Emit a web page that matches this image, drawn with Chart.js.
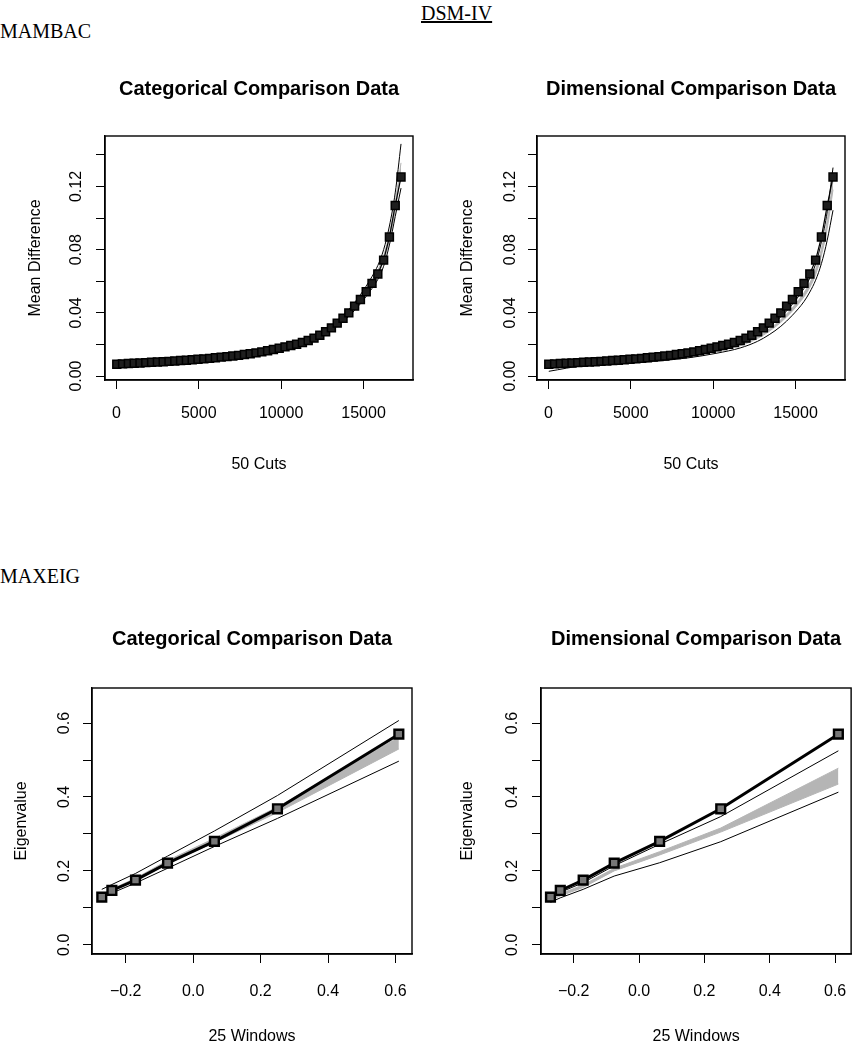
<!DOCTYPE html>
<html>
<head>
<meta charset="utf-8">
<script src="https://cdn.jsdelivr.net/npm/chart.js@4.4.1/dist/chart.umd.min.js"></script>
<style>
  body { margin: 0; background: #fff; width: 866px; height: 1050px; position: relative; overflow: hidden; }
  .lbl { position: absolute; font-family: "Liberation Serif", "Times New Roman", serif; font-size: 20px; line-height: 20px; color: #000; white-space: nowrap; }
  .box { position: absolute; }
  canvas { display: block; }
</style>
</head>
<body>
<div class="lbl" style="left:421px;top:3px;text-decoration:underline;">DSM-IV</div>
<div class="lbl" style="left:0;top:21px;">MAMBAC</div>
<div class="lbl" style="left:0;top:566px;">MAXEIG</div>

<div class="box" style="left:0;top:60px;"><canvas id="mambacCat" width="433" height="420"></canvas></div>
<div class="box" style="left:433px;top:60px;"><canvas id="mambacDim" width="433" height="420"></canvas></div>
<div class="box" style="left:0;top:600px;"><canvas id="maxeigCat" width="433" height="450"></canvas></div>
<div class="box" style="left:433px;top:600px;"><canvas id="maxeigDim" width="433" height="450"></canvas></div>

<script>
// ---- MAMBAC (50 cuts) ----
const cutX = [25, 377, 729, 1081, 1433, 1785, 2137, 2489, 2841, 3193,
              3545, 3897, 4249, 4601, 4953, 5305, 5657, 6009, 6361, 6713,
              7065, 7417, 7769, 8121, 8473, 8825, 9177, 9529, 9881, 10233,
              10585, 10937, 11289, 11641, 11993, 12345, 12697, 13049, 13401, 13753,
              14105, 14457, 14809, 15161, 15513, 15865, 16217, 16569, 16921, 17273];
const cutMeanDiff = [0.0075, 0.0077, 0.0079, 0.0081, 0.0083, 0.0085, 0.0087, 0.0089, 0.0091, 0.0093,
                     0.0095, 0.0098, 0.0100, 0.0103, 0.0106, 0.0109, 0.0112, 0.0116, 0.0120, 0.0123,
                     0.0127, 0.0131, 0.0136, 0.0141, 0.0147, 0.0153, 0.0160, 0.0168, 0.0176, 0.0185,
                     0.0193, 0.0201, 0.0212, 0.0225, 0.0240, 0.0258, 0.0280, 0.0305, 0.0335, 0.0366,
                     0.0400, 0.0443, 0.0485, 0.0534, 0.0587, 0.0646, 0.0734, 0.0880, 0.1080, 0.1260];

// comparison curves, read at a subset of the cuts
const cmpCutX = [25, 2137, 4249, 6361, 8473, 10233, 11641, 12697, 13401, 14105, 14809, 15513, 15865, 16217, 16569, 16921, 17273];
const catUpper  = [0.0100, 0.0094, 0.0106, 0.0126, 0.0154, 0.0194, 0.0236, 0.0294, 0.0352, 0.0422, 0.0515, 0.0630, 0.0700, 0.0800, 0.0950, 0.1160, 0.1470];
const catBandHi = [0.0084, 0.0090, 0.0103, 0.0122, 0.0150, 0.0189, 0.0230, 0.0286, 0.0342, 0.0408, 0.0497, 0.0605, 0.0670, 0.0762, 0.0900, 0.1100, 0.1350];
const catBandLo = [0.0076, 0.0085, 0.0098, 0.0117, 0.0144, 0.0182, 0.0221, 0.0275, 0.0328, 0.0392, 0.0476, 0.0578, 0.0640, 0.0728, 0.0862, 0.1050, 0.1280];
const catLower  = [0.0068, 0.0082, 0.0094, 0.0113, 0.0139, 0.0176, 0.0213, 0.0266, 0.0316, 0.0378, 0.0458, 0.0555, 0.0612, 0.0695, 0.0830, 0.1010, 0.1190];

const dimUpper  = [0.0055, 0.0080, 0.0094, 0.0112, 0.0138, 0.0173, 0.0210, 0.0262, 0.0312, 0.0375, 0.0455, 0.0555, 0.0620, 0.0710, 0.0850, 0.1040, 0.1320];
const dimBandHi = [0.0058, 0.0078, 0.0091, 0.0108, 0.0133, 0.0167, 0.0202, 0.0251, 0.0298, 0.0357, 0.0433, 0.0528, 0.0590, 0.0675, 0.0805, 0.0985, 0.1240];
const dimBandLo = [0.0050, 0.0073, 0.0086, 0.0102, 0.0126, 0.0158, 0.0192, 0.0238, 0.0283, 0.0340, 0.0412, 0.0502, 0.0561, 0.0642, 0.0765, 0.0935, 0.1180];
const dimLower  = [0.0030, 0.0066, 0.0078, 0.0093, 0.0115, 0.0145, 0.0178, 0.0220, 0.0262, 0.0315, 0.0385, 0.0472, 0.0532, 0.0607, 0.0712, 0.0860, 0.1050];

const mambacXTicks = [0, 5000, 10000, 15000];
const mambacXLabels = ['0', '5000', '10000', '15000'];
const mambacYTicks = [0, 0.02, 0.04, 0.06, 0.08, 0.10, 0.12, 0.14];
const mambacYLabels = ['0.00', '', '0.04', '', '0.08', '', '0.12', ''];

// ---- MAXEIG (25 windows) ----
const winX = [-0.271, -0.241, -0.171, -0.076, 0.063, 0.250, 0.610];
const winEigen = [0.129, 0.147, 0.175, 0.221, 0.280, 0.368, 0.570];

const catEigUpper  = [0.150, 0.163, 0.193, 0.240, 0.308, 0.404, 0.607];
const catEigBandHi = [0.135, 0.151, 0.180, 0.228, 0.288, 0.373, 0.562];
const catEigBandLo = [0.130, 0.146, 0.173, 0.220, 0.277, 0.358, 0.530];
const catEigLower  = [0.127, 0.140, 0.167, 0.207, 0.266, 0.342, 0.497];

const dimEigUpper  = [0.127, 0.142, 0.168, 0.214, 0.272, 0.347, 0.525];
const dimEigBandHi = [0.126, 0.138, 0.162, 0.207, 0.252, 0.316, 0.478];
const dimEigBandLo = [0.120, 0.132, 0.155, 0.200, 0.243, 0.305, 0.435];
const dimEigLower  = [0.115, 0.127, 0.150, 0.186, 0.222, 0.279, 0.413];

const maxeigXTicks = [-0.2, 0, 0.2, 0.4, 0.6];
const maxeigXLabels = ['\u22120.2', '0.0', '0.2', '0.4', '0.6'];
const maxeigYTicks = [0, 0.1, 0.2, 0.3, 0.4, 0.5, 0.6];
const maxeigYLabels = ['0.0', '', '0.2', '', '0.4', '', '0.6'];

const FONT = '"Liberation Sans", Arial, Helvetica, sans-serif';
const GRAY = '#b5b5b5';

function pts(xs, ys) {
    return xs.map((x, i) => ({ x: x, y: ys[i] }));
}

// R style box around the plot region
const plotBox = {
    id: 'plotBox',
    afterDatasetsDraw(chart) {
        const a = chart.chartArea;
        const ctx = chart.ctx;
        ctx.save();
        ctx.strokeStyle = '#000';
        ctx.lineWidth = 1.4;
        ctx.strokeRect(a.left, a.top, a.right - a.left, a.bottom - a.top);
        ctx.restore();
    }
};

function compSets(xs, upper, bandHi, bandLo, lower, smooth) {
    const mode = smooth ? 'monotone' : 'default';
    return [
        { data: pts(xs, upper), showLine: true, borderColor: '#000', borderWidth: 1, pointRadius: 0, cubicInterpolationMode: mode },
        { data: pts(xs, lower), showLine: true, borderColor: '#000', borderWidth: 1, pointRadius: 0, cubicInterpolationMode: mode },
        { data: pts(xs, bandHi), showLine: true, borderColor: GRAY, borderWidth: 1, pointRadius: 0,
          fill: '+1', backgroundColor: GRAY, cubicInterpolationMode: mode },
        { data: pts(xs, bandLo), showLine: true, borderColor: GRAY, borderWidth: 1, pointRadius: 0, cubicInterpolationMode: mode }
    ];
}

function mambacSets(upper, bandHi, bandLo, lower) {
    return [{
        data: pts(cutX, cutMeanDiff), showLine: true, borderColor: '#000', borderWidth: 1.2,
        pointStyle: 'rect', pointRadius: 5.6, pointBackgroundColor: '#1e1e1e',
        pointBorderColor: '#000', pointBorderWidth: 1.5
    }].concat(compSets(cmpCutX, upper, bandHi, bandLo, lower, true));
}

function maxeigSets(upper, bandHi, bandLo, lower) {
    return [{
        data: pts(winX, winEigen), showLine: true, borderColor: '#000', borderWidth: 3,
        pointStyle: 'rect', pointRadius: 6.2, pointBackgroundColor: '#777',
        pointBorderColor: '#000', pointBorderWidth: 2.4
    }].concat(compSets(winX, upper, bandHi, bandLo, lower, false));
}

function makeChart(id, o) {
    return new Chart(document.getElementById(id), {
        type: 'scatter',
        data: { datasets: o.datasets },
        options: {
            responsive: false,
            animation: false,
            events: [],
            layout: { padding: { left: 0, top: 0, right: o.padRight, bottom: 0 } },
            plugins: {
                legend: { display: false },
                tooltip: { enabled: false },
                title: {
                    display: true, text: o.title, fullSize: false, color: '#000',
                    font: { family: FONT, size: 20, weight: 'bold', lineHeight: 1.2 },
                    padding: { top: o.titleTop, bottom: o.titleBottom }
                }
            },
            scales: {
                x: {
                    type: 'linear', min: o.xMin, max: o.xMax,
                    afterBuildTicks: s => { s.ticks = o.xTicks.map(v => ({ value: v })); },
                    afterFit: s => { s.height = o.xHeight; },
                    grid: { drawOnChartArea: false, drawTicks: true, tickLength: 9, tickColor: '#000' },
                    border: { display: true, color: '#000', width: 1.4 },
                    ticks: {
                        color: '#000', font: { family: FONT, size: 16 }, padding: o.xTickPad,
                        maxRotation: 0, autoSkip: false,
                        callback: (v, i) => o.xLabels[i]
                    },
                    title: {
                        display: true, text: o.xTitle, color: '#000',
                        font: { family: FONT, size: 16, lineHeight: 1.2 },
                        padding: { top: 0, bottom: o.xTitleBottom }
                    }
                },
                y: {
                    type: 'linear', min: o.yMin, max: o.yMax,
                    afterBuildTicks: s => { s.ticks = o.yTicks.map(v => ({ value: v })); },
                    afterFit: s => { s.width = o.yWidth; },
                    grid: { drawOnChartArea: false, drawTicks: true, tickLength: 9, tickColor: '#000' },
                    border: { display: true, color: '#000', width: 1.4 },
                    ticks: {
                        color: '#000', font: { family: FONT, size: 16 }, padding: o.yTickPad,
                        minRotation: 90, maxRotation: 90, crossAlign: 'center', autoSkip: false,
                        callback: (v, i) => o.yLabels[i]
                    },
                    title: {
                        display: true, text: o.yTitle, color: '#000',
                        font: { family: FONT, size: 16, lineHeight: 1.2 },
                        padding: { top: o.yTitleTop, bottom: 0 }
                    }
                }
            }
        },
        plugins: [plotBox]
    });
}

const mambacCommon = {
    xMin: -690, xMax: 18000, yMin: -0.0025, yMax: 0.152,
    xTicks: mambacXTicks, xLabels: mambacXLabels, yTicks: mambacYTicks, yLabels: mambacYLabels,
    xTitle: '50 Cuts', yTitle: 'Mean Difference',
    titleTop: 17, titleBottom: 35, xHeight: 100, xTickPad: 15, xTitleBottom: 6
};

makeChart('mambacCat', Object.assign({}, mambacCommon, {
    title: 'Categorical Comparison Data',
    datasets: mambacSets(catUpper, catBandHi, catBandLo, catLower),
    yWidth: 105, padRight: 20, yTickPad: 3.5, yTitleTop: 26
}));

makeChart('mambacDim', Object.assign({}, mambacCommon, {
    title: 'Dimensional Comparison Data',
    datasets: mambacSets(dimUpper, dimBandHi, dimBandLo, dimLower),
    yWidth: 104, padRight: 21, yTickPad: 2, yTitleTop: 25.4
}));

const maxeigCommon = {
    xMin: -0.300, xMax: 0.649, yMin: -0.025, yMax: 0.695,
    xTicks: maxeigXTicks, xLabels: maxeigXLabels, yTicks: maxeigYTicks, yLabels: maxeigYLabels,
    xTitle: '25 Windows', yTitle: 'Eigenvalue',
    titleTop: 27.5, titleBottom: 36.5, xHeight: 96, xTickPad: 19, xTitleBottom: 4
};

makeChart('maxeigCat', Object.assign({}, maxeigCommon, {
    title: 'Categorical Comparison Data',
    datasets: maxeigSets(catEigUpper, catEigBandHi, catEigBandLo, catEigLower),
    yWidth: 92, padRight: 21, yTickPad: 7, yTitleTop: 12
}));

makeChart('maxeigDim', Object.assign({}, maxeigCommon, {
    title: 'Dimensional Comparison Data',
    datasets: maxeigSets(dimEigUpper, dimEigBandHi, dimEigBandLo, dimEigLower),
    yWidth: 108, padRight: 8, yTickPad: 8, yTitleTop: 25.4
}));
</script>
</body>
</html>
